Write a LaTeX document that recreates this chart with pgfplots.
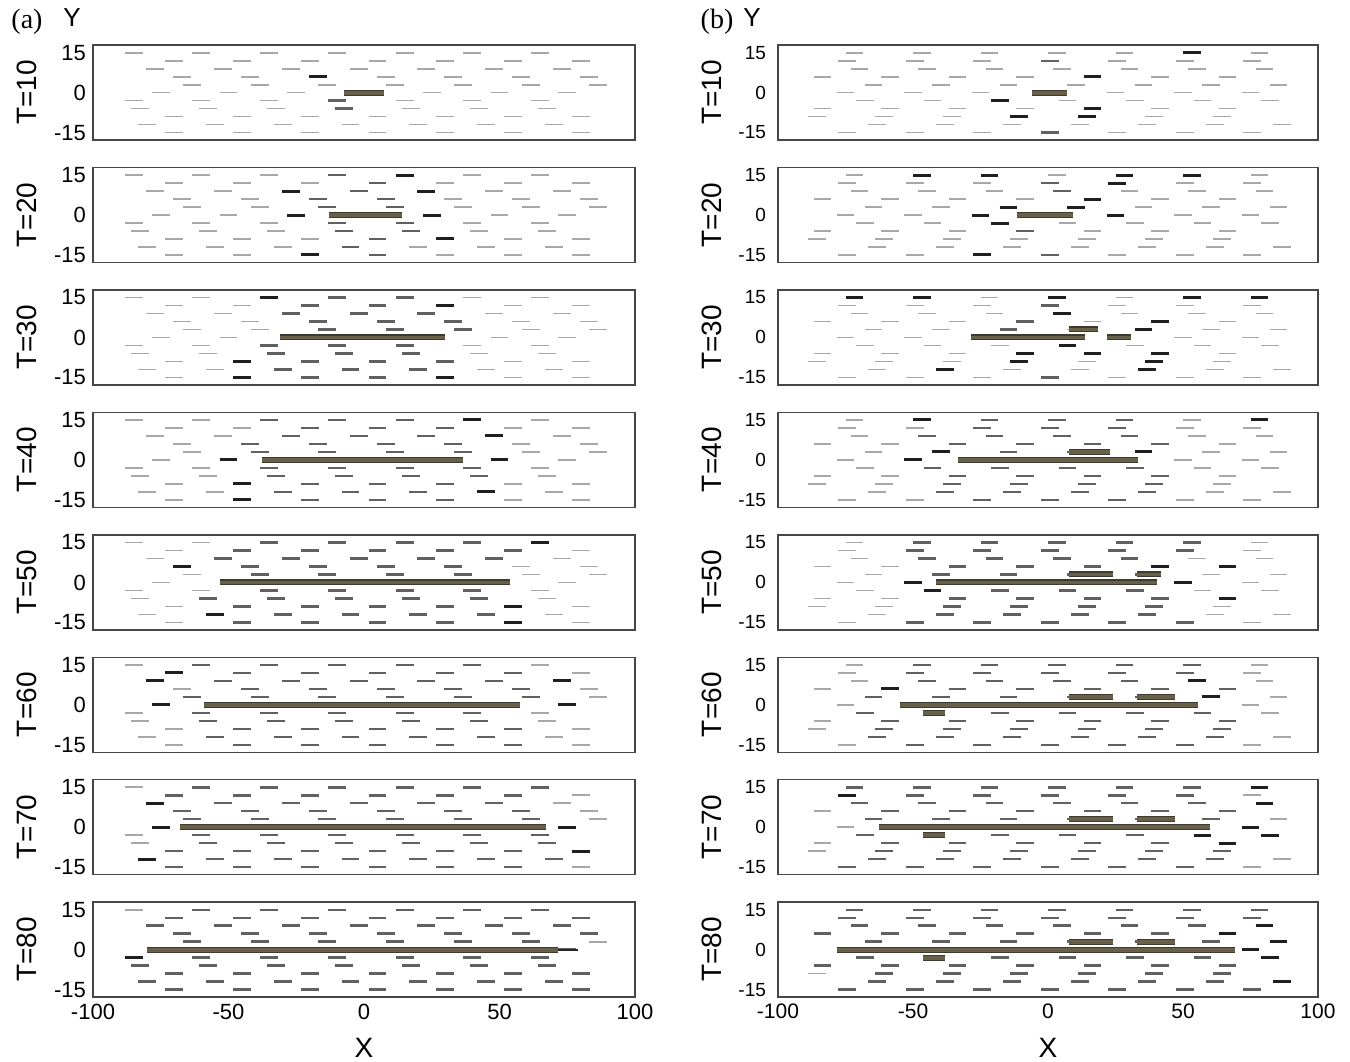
\documentclass[border=0pt]{standalone}
\usepackage{pgfplots}
\pgfplotsset{compat=1.18}
\usepackage{pgfplotstable}
\usepackage{fontspec}
\setmainfont{Liberation Sans}
\newfontfamily\seriffont{Liberation Serif}
\definecolor{crackfill}{RGB}{104,96,72}
\definecolor{crackedge}{RGB}{62,58,46}

% lattice of crack centres, column (a)
\pgfplotstableread{
x y
-85 15
-60 15
-35 15
-10 15
15 15
40 15
65 15
-70 12
-45 12
-20 12
5 12
30 12
55 12
80 12
-77 9
-52 9
-27 9
-2 9
23 9
48 9
73 9
-67 6
-42 6
-17 6
8 6
33 6
58 6
83 6
-63.5 3
-38.5 3
-13.5 3
11.5 3
36.5 3
61.5 3
86.5 3
-75 0
-50 0
-25 0
0 0
25 0
50 0
75 0
-85 -3
-60 -3
-35 -3
-10 -3
15 -3
40 -3
65 -3
-82.5 -6
-57.5 -6
-32.5 -6
-7.5 -6
17.5 -6
42.5 -6
67.5 -6
-70 -9
-45 -9
-20 -9
5 -9
30 -9
55 -9
80 -9
-80 -12
-55 -12
-30 -12
-5 -12
20 -12
45 -12
70 -12
-70 -15
-45 -15
-20 -15
5 -15
30 -15
55 -15
80 -15
}\latA

% lattice of crack centres, column (b)
\pgfplotstableread{
x y
-71.7 15
-46.7 15
-21.7 15
3.3 15
28.3 15
53.3 15
78.3 15
-74.3 12
-49.3 12
-24.3 12
0.7 12
25.7 12
50.7 12
75.7 12
-69.8 9
-44.8 9
-19.8 9
5.2 9
30.2 9
55.2 9
80.2 9
-83.5 6
-58.5 6
-33.5 6
-8.5 6
16.5 6
41.5 6
66.5 6
-64.6 3
-39.6 3
-14.6 3
10.4 3
35.4 3
60.4 3
85.4 3
-75 0
-50 0
-25 0
0 0
25 0
50 0
75 0
-67.8 -3
-42.8 -3
-17.8 -3
7.2 -3
32.2 -3
57.2 -3
82.2 -3
-83.5 -6
-58.5 -6
-33.5 -6
-8.5 -6
16.5 -6
41.5 -6
66.5 -6
-85.7 -9
-60.7 -9
-35.7 -9
-10.7 -9
14.3 -9
39.3 -9
64.3 -9
-63.2 -12
-38.2 -12
-13.2 -12
11.8 -12
36.8 -12
61.8 -12
86.8 -12
-74.3 -15
-49.3 -15
-24.3 -15
0.7 -15
25.7 -15
50.7 -15
75.7 -15
}\latB

\pgfplotsset{
  panel/.style={scale only axis, width=271pt, height=47.5pt,
    xmin=-100, xmax=100, ymin=-17.8, ymax=17.9,
    ytick={-15,0,15}, yticklabels={-15,0,15}, xtick=\empty,
    major tick length=0pt,
    axis line style={black!72, line width=0.7pt},
    anchor=north west,
    tick label style={font=\fontsize{11}{13}\selectfont},
    ylabel style={at={(axis description cs:-0.122,0.5)}, anchor=center, font=\fontsize{14}{16}\selectfont}},
  panelb/.style={panel, width=270pt,
    yticklabel style={font=\fontsize{9.5}{11}\selectfont, xshift=-2.5pt},
    xticklabel style={font=\fontsize{10.5}{12}\selectfont}},
  bottom/.style={xtick={-100,-50,0,50,100}, xticklabels={-100,-50,0,50,100},
    xlabel={X}, xlabel style={at={(axis description cs:0.5,-0.54)}, anchor=center, font=\fontsize{14}{16}\selectfont}},
  lt/.style={quiver={u=6.6,v=0}, color=black!34, line width=0.85pt},
  md/.style={quiver={u=6.6,v=0}, color=black!62, line width=1.2pt},
  dk/.style={quiver={u=6.6,v=0}, color=black!88, line width=1.5pt},
}
\newcommand\lat[2]{%
  \addplot[lt] table[x expr=\thisrow{x}-3.3,y=y] {#1};
  \addplot[md, x filter/.expression={abs(x+3.3)<#2 ? x : nan}] table[x expr=\thisrow{x}-3.3,y=y] {#1};}
\newcommand\dks[1]{%
  \addplot[dk] table[x expr=\thisrow{x}-3.3,y=y,row sep=\\] {x y\\ #1};}
\newcommand\mds[1]{%
  \addplot[md] table[x expr=\thisrow{x}-3.3,y=y,row sep=\\] {x y\\ #1};}
\newcommand\crack[3]{%
  \addplot[crackedge, line width=3pt] coordinates {(#1,#3) (#2,#3)};
  \addplot[crackfill, line width=1.9pt] coordinates {(#1,#3) (#2,#3)};}

\begin{document}
\begin{tikzpicture}
\path[use as bounding box] (0,0) rectangle (675pt,-530.5pt);

\node[font=\seriffont\fontsize{14}{16}\selectfont] at (13.5pt,-11pt) {(a)};
\node[font=\fontsize{13}{15}\selectfont] at (36pt,-9pt) {Y};
\node[font=\seriffont\fontsize{14}{16}\selectfont] at (358.5pt,-11pt) {(b)};
\node[font=\fontsize{13}{15}\selectfont] at (376pt,-9pt) {Y};

% ---------------- column (a) ----------------
\begin{axis}[panel, at={(46.5pt,-22.5pt)}, ylabel={T=10}]
\lat{\latA}{1}
\mds{-10 -3\\ -7.5 -6\\}
\dks{-17 6\\}
\crack{-7.5}{7.5}{0}
\end{axis}

\begin{axis}[panel, at={(46.5pt,-83.7pt)}, ylabel={T=20}]
\lat{\latA}{18}
\dks{15 15\\ -27 9\\ 23 9\\ -25 0\\ 25 0\\ 30 -9\\ -20 -15\\}
\crack{-13}{14}{0}
\end{axis}

\begin{axis}[panel, at={(46.5pt,-144.9pt)}, ylabel={T=30}]
\lat{\latA}{38}
\dks{-35 15\\ 30 12\\ -45 -9\\ -45 -15\\ 30 -15\\}
\crack{-31}{30}{0}
\end{axis}

\begin{axis}[panel, at={(46.5pt,-206.1pt)}, ylabel={T=40}]
\lat{\latA}{45}
\dks{40 15\\ 48 9\\ -50 0\\ 50 0\\ -45 -9\\ 45 -12\\ -45 -15\\}
\crack{-37.6}{36.5}{0}
\end{axis}

\begin{axis}[panel, at={(46.5pt,-267.4pt)}, ylabel={T=50}]
\lat{\latA}{58}
\dks{65 15\\ -67 6\\ 55 -9\\ -55 -12\\ 55 -15\\}
\crack{-53}{54}{0}
\end{axis}

\begin{axis}[panel, at={(46.5pt,-328.6pt)}, ylabel={T=60}]
\lat{\latA}{65}
\dks{-70 12\\ -77 9\\ 73 9\\ -75 0\\ 75 0\\}
\crack{-59}{57.6}{0}
\end{axis}

\begin{axis}[panel, at={(46.5pt,-389.8pt)}, ylabel={T=70}]
\lat{\latA}{72}
\dks{-77 9\\ -75 0\\ 75 0\\ 80 -9\\ -80 -12\\}
\crack{-68}{67}{0}
\end{axis}

\begin{axis}[panel, bottom, at={(46.5pt,-451pt)}, ylabel={T=80}]
\lat{\latA}{84}
\dks{-85 -3\\}
\addplot[black!85, line width=1.1pt] coordinates {(71,0) (79,0)};
\crack{-80}{71.6}{0}
\end{axis}

% ---------------- column (b) ----------------
\begin{axis}[panelb, at={(389pt,-22.5pt)}, ylabel={T=10}]
\lat{\latB}{1}
\dks{53.3 15\\ 16.5 6\\ -17.8 -3\\ 16.5 -6\\ -10.7 -9\\ 14.3 -9\\}
\crack{-6}{7}{0}
\end{axis}

\begin{axis}[panelb, at={(389pt,-83.7pt)}, ylabel={T=20}]
\lat{\latB}{1}
\mds{5.2 9\\ -8.5 -6\\}
\dks{-46.7 15\\ -21.7 15\\ 28.3 15\\ 53.3 15\\ 25.7 12\\ 16.5 6\\ -14.6 3\\ 10.4 3\\ -25 0\\ 25 0\\ -17.8 -3\\ -24.3 -15\\}
\crack{-11.3}{9.4}{0}
\end{axis}

\begin{axis}[panelb, at={(389pt,-144.9pt)}, ylabel={T=30}]
\lat{\latB}{1}
\mds{0.7 12\\ -8.5 6\\ -14.6 3\\}
\dks{-71.7 15\\ -46.7 15\\ 3.3 15\\ 53.3 15\\ 78.3 15\\ 5.2 9\\ 41.5 6\\ 35.4 3\\ 7.2 -3\\ -8.5 -6\\ 16.5 -6\\ 41.5 -6\\ -10.7 -9\\ 39.3 -9\\ -38.2 -12\\ 36.8 -12\\}
\crack{-28.6}{13.7}{0}
\crack{22}{30.7}{0}
\crack{7.6}{18.6}{3}
\end{axis}

\begin{axis}[panelb, at={(389pt,-206.1pt)}, ylabel={T=40}]
\lat{\latB}{45}
\dks{-46.7 15\\ 78.3 15\\ -39.6 3\\ 35.4 3\\ -50 0\\}
\crack{-33.5}{33.5}{0}
\crack{7.6}{23}{3}
\end{axis}

\begin{axis}[panelb, at={(389pt,-267.4pt)}, ylabel={T=50}]
\lat{\latB}{55}
\dks{-50 0\\ 50 0\\ -42.8 -3\\ 66.5 -6\\ 41.5 6\\ 66.5 6\\}
\crack{-41.5}{40.5}{0}
\crack{7.9}{24.2}{3}
\crack{33}{41.8}{3}
\end{axis}

\begin{axis}[panelb, at={(389pt,-328.6pt)}, ylabel={T=60}]
\lat{\latB}{68}
\dks{-58.5 6\\ 55.2 9\\ 60.4 3\\}
\crack{-55}{55.5}{0}
\crack{7.9}{24.2}{3}
\crack{33}{47}{3}
\crack{-46.2}{-38.1}{-3}
\end{axis}

\begin{axis}[panelb, at={(389pt,-389.8pt)}, ylabel={T=70}]
\lat{\latB}{75}
\dks{75 0\\ 78.3 15\\ -74.3 12\\ 80.2 9\\ 57.2 -3\\ 82.2 -3\\ 66.5 -6\\}
\crack{-62.5}{60}{0}
\crack{7.9}{24.2}{3}
\crack{33}{47}{3}
\crack{-46.2}{-38.1}{-3}
\end{axis}

\begin{axis}[panelb, bottom, at={(389pt,-451pt)}, ylabel={T=80}]
\lat{\latB}{84}
\dks{75 0\\ 80.2 9\\ 66.5 6\\ 82.2 -3\\ 85.4 3\\ 86.8 -12\\}
\crack{-78.3}{69.4}{0}
\crack{7.9}{24.2}{3}
\crack{33}{47}{3}
\crack{-46.2}{-38.1}{-3}
\end{axis}

\end{tikzpicture}
\end{document}
